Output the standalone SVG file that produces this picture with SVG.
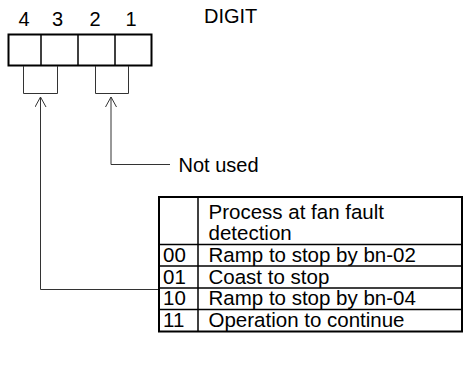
<svg xmlns="http://www.w3.org/2000/svg" width="464" height="370" viewBox="0 0 464 370">
<style>
text{font-family:"Liberation Sans",Arial,sans-serif;font-size:20px;fill:#000}
#table text{font-size:20.5px}
.thick{fill:none;stroke:#000;stroke-width:2}
.inner{fill:none;stroke:#000;stroke-width:1.5}
.conn{fill:none;stroke:#333;stroke-width:1}
</style>
<defs>
<marker id="arr" viewBox="0 0 12 12" refX="10" refY="6" markerWidth="12" markerHeight="12" markerUnits="userSpaceOnUse" orient="auto">
<path d="M0,0.5 L10,6 L0,11.5" fill="none" stroke="#333" stroke-width="1"/>
</marker>
</defs>
<rect width="464" height="370" fill="#fff"/>
<g id="digit-box">
<rect class="thick" x="8.5" y="34.5" width="143" height="31"/>
<line class="inner" x1="41" y1="34.5" x2="41" y2="65.5"/>
<line class="inner" x1="78" y1="34.5" x2="78" y2="65.5"/>
<line class="inner" x1="115" y1="34.5" x2="115" y2="65.5"/>
<text x="24" y="26" text-anchor="middle">4</text>
<text x="57.5" y="26" text-anchor="middle">3</text>
<text x="95" y="26" text-anchor="middle">2</text>
<text x="131" y="26" text-anchor="middle">1</text>
<text x="204" y="22.5">DIGIT</text>
</g>
<g id="not-used">
<text x="178.5" y="172">Not used</text>
</g>
<g id="table">
<rect class="thick" x="159" y="197" width="303" height="134.5"/>
<line class="inner" x1="198" y1="197" x2="198" y2="331.5"/>
<line class="inner" x1="159" y1="244.5" x2="462" y2="244.5"/>
<line class="inner" x1="159" y1="266" x2="462" y2="266"/>
<line class="inner" x1="159" y1="288" x2="462" y2="288"/>
<line class="inner" x1="159" y1="309.5" x2="462" y2="309.5"/>
<text x="208.5" y="218.5">Process at fan fault</text>
<text x="208.5" y="240">detection</text>
<text x="163" y="261.5">00</text>
<text x="208.5" y="261.5">Ramp to stop by bn-02</text>
<text x="163" y="283.5">01</text>
<text x="208.5" y="283.5">Coast to stop</text>
<text x="163" y="305">10</text>
<text x="208.5" y="305">Ramp to stop by bn-04</text>
<text x="163" y="327">11</text>
<text x="208.5" y="327">Operation to continue</text>
</g>
<g id="connectors">
<path class="conn" d="M23.5,66 V93.5 H57.5 V66"/>
<path class="conn" d="M95.5,66 V93.5 H128.5 V66"/>
<path class="conn" d="M158,289.5 H40.5 V97" marker-end="url(#arr)"/>
<path class="conn" d="M170,164.5 H111 V97" marker-end="url(#arr)"/>
</g>
</svg>
